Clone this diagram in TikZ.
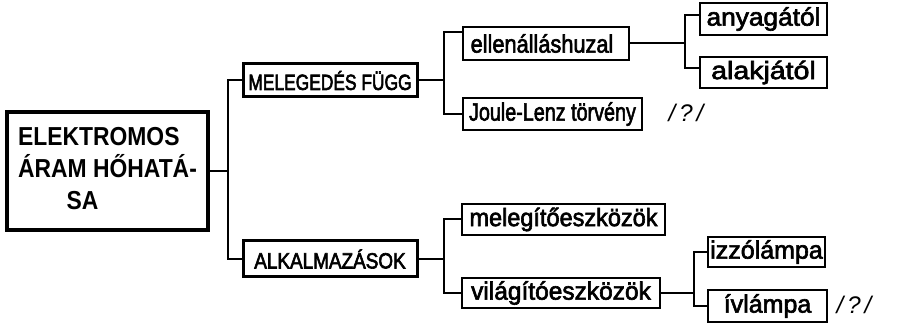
\documentclass[tikz,border=0pt]{standalone}
\usepackage{fontspec}
\setmainfont{Liberation Sans}
\newcommand{\sx}[2]{\scalebox{#1}[1]{#2}}
\begin{document}
\begin{tikzpicture}[x=1pt,y=-1pt,
  box/.style={draw, line width=2pt, inner sep=0pt, font=\fontsize{25}{30}\selectfont\addfontfeature{FakeBold=2.5}},
  capbox/.style={draw, inner sep=0pt, line width=3pt, font=\fontsize{22}{26}\selectfont\addfontfeature{FakeBold=3}},
  rootbox/.style={draw, line width=3.5pt, inner sep=0pt, font=\bfseries\fontsize{26}{32}\selectfont},
  conn/.style={line width=2pt},
  note/.style={inner sep=0pt, font=\itshape\fontsize{24}{28}\selectfont}]
\useasboundingbox (0,0) rectangle (899,336);
% nodes
\node[rootbox, minimum width=201pt, minimum height=118pt] (root) at (107.5,171)
  {\sx{0.88}{\begin{tabular}{@{}l@{}}ELEKTROMOS\\ÁRAM HŐHATÁ-\\\hspace*{55pt}SA\end{tabular}}};
\node[capbox, minimum width=174pt, minimum height=33pt] (mel) at (330,80.5)
  {\sx{0.79}{MELEGEDÉS FÜGG}};
\node[capbox, minimum width=174pt, minimum height=36pt] (alk) at (330,259)
  {\sx{0.86}{ALKALMAZÁSOK}};
\node[box, minimum width=166pt, minimum height=33pt] (ell) at (546,43.5)
  {\sx{0.87}{ellenálláshuzal}\hspace*{8pt}};
\node[box, minimum width=179pt, minimum height=32pt] (joule) at (552.5,114)
  {\sx{0.79}{Joule-Lenz törvény}};
\node[box, minimum width=127pt, minimum height=32pt] (any) at (763.5,19)
  {\sx{1.05}{anyagától}};
\node[box, minimum width=127pt, minimum height=31pt] (alakj) at (763.5,72.5)
  {\sx{1.14}{alakjától}};
\node[box, minimum width=203pt, minimum height=31pt] (meleg) at (563.5,219.5)
  {\sx{0.94}{melegítőeszközök}};
\node[box, minimum width=198pt, minimum height=30pt] (vilag) at (561,293)
  {\sx{0.98}{világítóeszközök}};
\node[box, minimum width=117pt, minimum height=30pt] (izzo) at (766.5,252)
  {\sx{1.0}{izzólámpa}};
\node[box, minimum width=119pt, minimum height=32pt] (ivl) at (767.5,306)
  {\sx{1.0}{ívlámpa}};
\node[note] (q1) at (686,113) {/\,?\,/};
\node[note] (q2) at (854,305) {/\,?\,/};
% junctions
\coordinate (j1) at (228,168);
\coordinate (j2) at (444,80.5);
\coordinate (j3) at (685,43.5);
\coordinate (j4) at (444,259);
\coordinate (j5) at (694,293);
% connectors
\draw[conn] (root.east) -- (root.east -| j1);
\draw[conn] (mel.west) -| (j1) |- (alk.west);
\draw[conn] (mel.east) -- (j2);
\draw[conn] ([yshift=11.5pt]ell.west) -| (j2) |- (joule.west);
\draw[conn] (ell.east) -- (j3);
\draw[conn] ([yshift=4pt]any.west) -| (j3) |- ([yshift=4.5pt]alakj.west);
\draw[conn] (alk.east) -- (j4);
\draw[conn] (meleg.west) -| (j4) |- (vilag.west);
\draw[conn] (vilag.east) -- (j5);
\draw[conn] (izzo.west) -| (j5) |- (ivl.west);
\end{tikzpicture}
\end{document}
